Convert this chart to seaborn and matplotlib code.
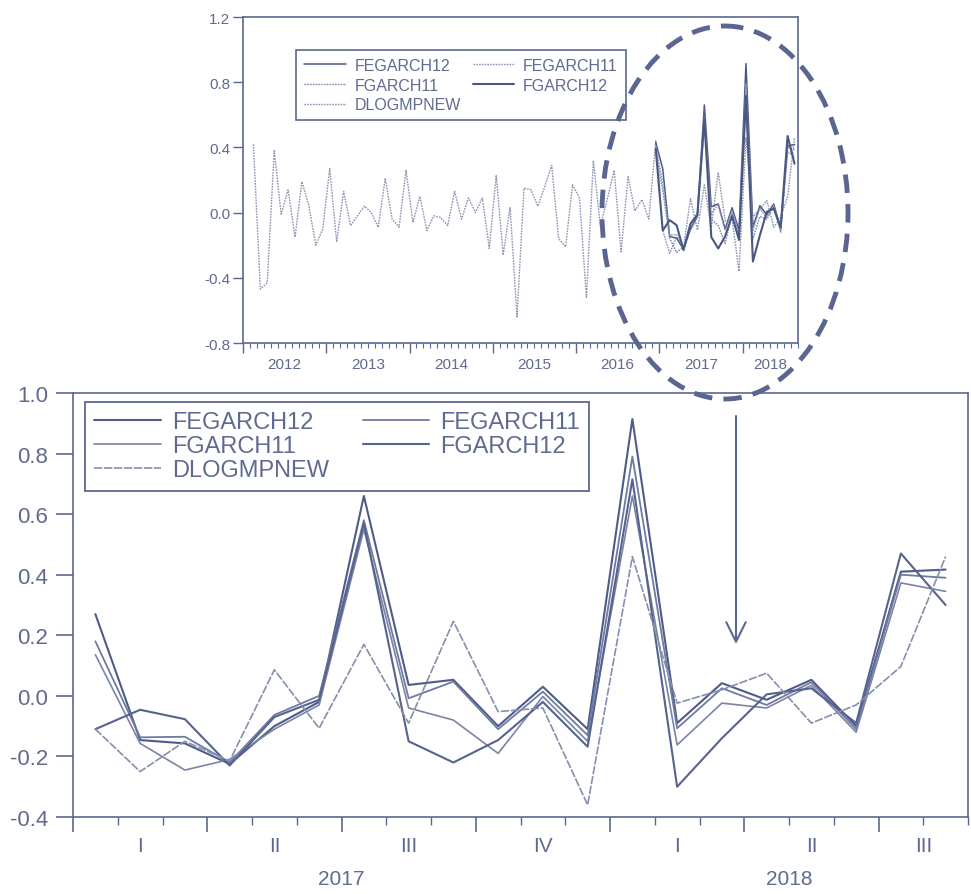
import numpy as np
import pandas as pd
import matplotlib
matplotlib.use("Agg")
import matplotlib.pyplot as plt
import seaborn as sns
from matplotlib.patches import Ellipse

sns.set_style("white")
plt.rcParams["font.family"] = ["Liberation Sans", "DejaVu Sans"]
plt.rcParams["axes.unicode_minus"] = False

INK = "#5b6791"
TEXT = "#5f6a90"

# DLOGMPNEW, monthly, Feb 2012 - Nov 2016
history_months = pd.period_range("2012-02", "2016-11", freq="M")
dlog_history = [
    0.42, -0.47, -0.43, 0.38, -0.01, 0.14, -0.15, 0.19, 0.04, -0.20, -0.10,
    0.27, -0.18, 0.13, -0.08, -0.02, 0.04, 0.00, -0.09, 0.21, -0.04, -0.09, 0.26,
    -0.06, 0.10, -0.11, -0.02, -0.03, -0.08, 0.13, -0.04, 0.09, 0.00, 0.09, -0.22,
    0.23, -0.26, 0.03, -0.64, 0.15, 0.14, 0.04, 0.16, 0.29, -0.16, -0.21, 0.17,
    0.09, -0.52, 0.32, -0.08, 0.08, 0.26, -0.24, 0.22, 0.01, 0.08, -0.04,
]

# Forecast window, Dec 2016 - Aug 2018
window_months = pd.period_range("2016-12", "2018-08", freq="M")
fegarch12 = [0.43, 0.27, -0.146, -0.157, -0.225, -0.10, -0.02, 0.66, 0.036, 0.053, -0.10,
             0.030, -0.11, 0.914, -0.09, 0.042, -0.013, 0.053, -0.10, 0.41, 0.417]
fegarch11 = [0.41, 0.18, -0.137, -0.135, -0.22, -0.063, 0.0, 0.58, -0.008, 0.047, -0.11,
             0.014, -0.13, 0.79, -0.107, 0.025, -0.03, 0.045, -0.11, 0.40, 0.39]
fgarch11 = [0.37, 0.136, -0.157, -0.245, -0.21, -0.11, -0.03, 0.55, -0.04, -0.08, -0.19,
            -0.002, -0.15, 0.66, -0.162, -0.024, -0.04, 0.035, -0.12, 0.373, 0.345]
fgarch12 = [0.39, -0.11, -0.046, -0.077, -0.23, -0.07, -0.013, 0.57, -0.15, -0.22, -0.146,
            -0.02, -0.168, 0.715, -0.30, -0.14, 0.005, 0.025, -0.09, 0.47, 0.30]
dlogmpnew = [0.44, -0.11, -0.25, -0.15, -0.215, 0.086, -0.107, 0.17, -0.09, 0.246, -0.052,
             -0.04, -0.36, 0.46, -0.024, 0.02, 0.075, -0.09, -0.03, 0.097, 0.46]

series_names = ["FEGARCH12", "FEGARCH11", "FGARCH11", "FGARCH12", "DLOGMPNEW"]
series_values = [fegarch12, fegarch11, fgarch11, fgarch12, dlogmpnew]

roman = {1: "I", 2: "II", 3: "III", 4: "IV"}

top_style = {
    "FEGARCH12": dict(color="#4d5a85", linewidth=1.1, linestyle="-"),
    "FEGARCH11": dict(color="#8b94b1", linewidth=1.0, linestyle=(0, (1.2, 0.8))),
    "FGARCH11": dict(color="#7f89a9", linewidth=1.0, linestyle=(0, (1.2, 0.8))),
    "FGARCH12": dict(color="#4a5783", linewidth=1.5, linestyle="-"),
    "DLOGMPNEW": dict(color="#8d95b1", linewidth=1.0, linestyle=(0, (1.2, 0.8))),
}
bottom_style = {
    "FEGARCH12": dict(color="#4f5c88", linewidth=1.5, linestyle="-"),
    "FEGARCH11": dict(color="#6f7aa0", linewidth=1.3, linestyle="-"),
    "FGARCH11": dict(color="#7a84a7", linewidth=1.2, linestyle="-"),
    "FGARCH12": dict(color="#56638d", linewidth=1.5, linestyle="-"),
    "DLOGMPNEW": dict(color="#858fae", linewidth=1.2, linestyle=(0, (5, 1))),
}


def month_pos(periods, start_year):
    return np.array([(p.year - start_year) * 12 + p.month - 1 + 0.5 for p in periods])


def style_axes(ax):
    for sp in ax.spines.values():
        sp.set_visible(True)
        sp.set_color(INK)
        sp.set_linewidth(1.2)


fig = plt.figure(figsize=(9.71, 8.95), dpi=100)
fig.patch.set_facecolor("white")

# ---------------- full sample panel ----------------
ax_top = fig.add_axes([243 / 971, 1 - 344 / 895, 555 / 971, 326 / 895])
style_axes(ax_top)

full_months = history_months.append(window_months)
full_dlog = dlog_history + dlogmpnew
top_df = pd.DataFrame({"x": month_pos(full_months, 2012), "y": full_dlog})
win_x = month_pos(window_months, 2012)

top_lines = {}
sns.lineplot(data=top_df, x="x", y="y", ax=ax_top, **top_style["DLOGMPNEW"])
top_lines["DLOGMPNEW"] = ax_top.lines[-1]
for name, vals in zip(series_names[:4], series_values[:4]):
    sns.lineplot(x=win_x, y=vals, ax=ax_top, **top_style[name])
    top_lines[name] = ax_top.lines[-1]

ax_top.set_xlim(0, 80)
ax_top.set_ylim(-0.8, 1.2)
ax_top.set_xlabel("")
ax_top.set_ylabel("")
ax_top.set_xticks(np.arange(0, 73, 12))
ax_top.set_xticks(np.arange(0, 81, 1), minor=True)
ax_top.set_xticklabels([])
ax_top.tick_params(axis="x", which="major", length=7, width=1.0, color=INK, direction="out", bottom=True)
ax_top.tick_params(axis="x", which="minor", length=3.5, width=0.8, color=INK, direction="out", bottom=True)
top_yt = np.round(np.arange(-0.8, 1.21, 0.4), 1)
ax_top.set_yticks(top_yt)
ax_top.set_yticklabels([f"{v:.1f}" for v in top_yt], fontsize=11, color=TEXT)
ax_top.tick_params(axis="y", length=7, width=1.0, color=INK, direction="out", left=True, pad=2)

for yr in range(2012, 2019):
    lo = (yr - 2012) * 12
    hi = min(lo + 12, 80)
    ax_top.text((lo + hi) / 2, -0.065, str(yr), transform=ax_top.get_xaxis_transform(),
                ha="center", va="center", fontsize=11, color=TEXT)

order = ["FEGARCH12", "FGARCH11", "DLOGMPNEW", "FEGARCH11", "FGARCH12"]
leg_top = ax_top.legend([top_lines[n] for n in order], order, ncol=2, loc="upper left",
                        bbox_to_anchor=(0.0955, 0.899), borderaxespad=0, fontsize=11.5,
                        handlelength=2.6, handletextpad=0.55, columnspacing=0.75,
                        labelspacing=0.3, borderpad=0.5, fancybox=False, framealpha=1)
leg_top.get_frame().set_edgecolor(INK)
leg_top.get_frame().set_linewidth(1.2)
for t in leg_top.get_texts():
    t.set_color(TEXT)

# ---------------- zoomed panel ----------------
ax_bot = fig.add_axes([73 / 971, 1 - 818 / 895, 895 / 971, 424 / 895])
style_axes(ax_bot)

zoom_months = window_months[1:]
zoom_x = month_pos(zoom_months, 2017)
bot_lines = {}
for name, vals in zip(series_names, series_values):
    sns.lineplot(x=zoom_x, y=vals[1:], ax=ax_bot, **bottom_style[name])
    bot_lines[name] = ax_bot.lines[-1]

ax_bot.set_xlim(0, 20)
ax_bot.set_ylim(-0.4, 1.0)
ax_bot.set_xticks(np.arange(0, 19, 3))
ax_bot.set_xticks(np.arange(0, 21, 1), minor=True)
ax_bot.set_xticklabels([])
ax_bot.tick_params(axis="x", which="major", length=11, width=1.2, color=INK, direction="out", bottom=True)
ax_bot.tick_params(axis="x", which="minor", length=6, width=1.0, color=INK, direction="out", bottom=True)
bot_yt = np.round(np.arange(-0.4, 1.01, 0.2), 1)
ax_bot.set_yticks(bot_yt)
ax_bot.set_yticklabels([f"{v:.1f}" for v in bot_yt], fontsize=16, color=TEXT)
ax_bot.tick_params(axis="y", length=12, width=1.2, color=INK, direction="out", left=True, pad=6)

zq = pd.DataFrame({"x": zoom_x, "year": [p.year for p in zoom_months],
                   "q": [p.quarter for p in zoom_months]})
for (yr, q), grp in zq.groupby(["year", "q"]):
    ax_bot.text(grp["x"].mean(), -0.068, roman[q], transform=ax_bot.get_xaxis_transform(),
                ha="center", va="center", fontsize=15, color=TEXT)
for yr, grp in zq.groupby("year"):
    ax_bot.text(grp["x"].mean(), -0.146, str(yr), transform=ax_bot.get_xaxis_transform(),
                ha="center", va="center", fontsize=15, color=TEXT)

leg_bot = ax_bot.legend([bot_lines[n] for n in order], order, ncol=2, loc="upper left",
                        bbox_to_anchor=(0.0134, 0.979), borderaxespad=0, fontsize=17,
                        handlelength=2.8, handletextpad=0.47, columnspacing=1.45,
                        labelspacing=0.08, borderpad=0.4, fancybox=False, framealpha=1)
leg_bot.get_frame().set_edgecolor(INK)
leg_bot.get_frame().set_linewidth(1.3)
for t in leg_bot.get_texts():
    t.set_color(TEXT)

# ---------------- highlight ellipse and arrow ----------------
ov = fig.add_axes([0, 0, 1, 1], zorder=10)
ov.set_xlim(0, 971)
ov.set_ylim(895, 0)
ov.axis("off")
ov.patch.set_alpha(0)
ov.add_patch(Ellipse((725, 213.5), 246, 373, fill=False, edgecolor="#5a6590",
                     linewidth=3.5, linestyle=(0, (3.8, 2.3))))
ov.annotate("", xy=(736, 645), xytext=(736, 417),
            arrowprops=dict(arrowstyle="->,head_length=1.0,head_width=0.5", color=INK,
                            lw=1.5, shrinkA=0, shrinkB=0, mutation_scale=14))

fig.savefig("out.png", dpi=100, facecolor="white")
